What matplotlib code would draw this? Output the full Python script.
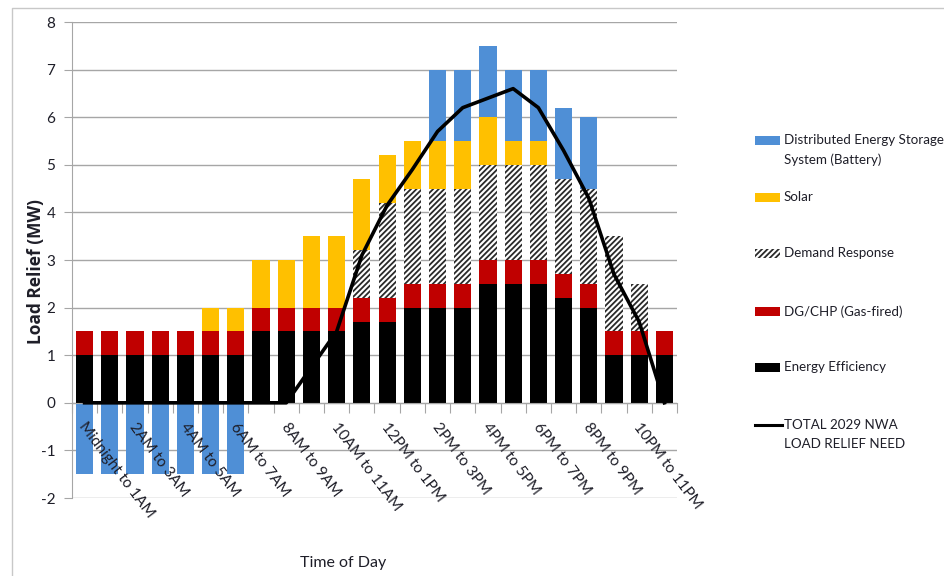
import matplotlib.pyplot as plt
from matplotlib.patches import Rectangle
from matplotlib.lines import Line2D
import numpy as np

plt.rcParams['font.family'] = ['Lato', 'DejaVu Sans']
plt.rcParams['hatch.linewidth'] = 1.3
plt.rcParams['axes.unicode_minus'] = False

# hourly slots
hours = list(range(24))
tick_labels = ['Midnight to 1AM', '2AM to 3AM', '4AM to 5AM', '6AM to 7AM',
               '8AM to 9AM', '10AM to 11AM', '12PM to 1PM', '2PM to 3PM',
               '4PM to 5PM', '6PM to 7PM', '8PM to 9PM', '10PM to 11PM']

# load relief by resource (MW)
efficiency = [1, 1, 1, 1, 1, 1, 1, 1.5, 1.5, 1.5, 1.5, 1.7,
              1.7, 2, 2, 2, 2.5, 2.5, 2.5, 2.2, 2, 1, 1, 1]
dg_chp = [0.5] * 24
demand_resp = [0, 0, 0, 0, 0, 0, 0, 0, 0, 0, 0, 1,
               2, 2, 2, 2, 2, 2, 2, 2, 2, 2, 1, 0]
solar = [0, 0, 0, 0, 0, 0.5, 0.5, 1, 1, 1.5, 1.5, 1.5,
         1, 1, 1, 1, 1, 0.5, 0.5, 0, 0, 0, 0, 0]
battery = [-1.5, -1.5, -1.5, -1.5, -1.5, -1.5, -1.5, 0, 0, 0, 0, 0,
           0, 0, 1.5, 1.5, 1.5, 1.5, 1.5, 1.5, 1.5, 0, 0, 0]
total_need = [0, 0, 0, 0, 0, 0, 0, 0, 0, 0.75, 1.5, 3.1,
              4.15, 4.9, 5.7, 6.2, 6.4, 6.6, 6.2, 5.3, 4.3, 2.7, 1.7, 0]

BLUE = '#4f8fd6'
YELLOW = '#ffc000'
RED = '#c00000'
GRID = '#a6a6a6'
TXT = '#1e1e28'
HATCH = '#2a2a2a'

W, H = 945, 576
fig = plt.figure(figsize=(W / 100, H / 100), dpi=100)


def fx(px):
    return px / W


def fy(py):
    return 1 - py / H


ax = fig.add_axes([fx(72), fy(498), fx(677 - 72), (498 - 22) / H])

x = np.array(hours)
bw = 0.68
ee = np.array(efficiency)
dg = np.array(dg_chp)
dr = np.array(demand_resp)
so = np.array(solar)
bt = np.array(battery)

ax.bar(x, ee, bw, color='black', zorder=2)
ax.bar(x, dg, bw, bottom=ee, color=RED, zorder=2)
ax.bar(x, dr, bw, bottom=ee + dg, color='white', edgecolor=HATCH,
       hatch='//////', linewidth=0, zorder=2)
ax.bar(x, so, bw, bottom=ee + dg + dr, color=YELLOW, zorder=2)
pos_bt = np.where(bt > 0, bt, 0)
neg_bt = np.where(bt < 0, bt, 0)
ax.bar(x, pos_bt, bw, bottom=ee + dg + dr + so, color=BLUE, zorder=2)
ax.bar(x, neg_bt, bw, color=BLUE, zorder=2)
ax.plot(x, total_need, color='black', lw=2.6, zorder=3,
        solid_joinstyle='round')

ax.set_xlim(-0.5, 23.5)
ax.set_ylim(-2, 8)
ax.set_yticks(range(-2, 9))
ax.yaxis.grid(True, color=GRID, lw=1)
ax.set_axisbelow(True)
for s in ['top', 'right']:
    ax.spines[s].set_visible(False)
ax.spines['left'].set_color(GRID)
ax.spines['bottom'].set_color(GRID)
ax.spines['bottom'].set_position(('data', 0))
ax.set_xticks(np.arange(-0.5, 24, 1))
ax.set_xticklabels([])
ax.tick_params(axis='x', direction='out', length=7, color=GRID)
ax.tick_params(axis='y', direction='out', length=6, color=GRID,
               labelsize=11, labelcolor=TXT, pad=6)

for i, lab in enumerate(tick_labels):
    ax.text(2 * i - 0.1, -0.45, lab, rotation=-53, rotation_mode='anchor',
            ha='left', va='center', fontsize=11, color=TXT)

fig.text(fx(343), fy(563), 'Time of Day', ha='center', va='center',
         fontsize=11.5, color=TXT)
fig.text(fx(36), fy(272), 'Load Relief (MW)', rotation=90, ha='center',
         va='center', fontsize=12.5, fontweight='bold', color=TXT,
         family=['Open Sans', 'DejaVu Sans'])

# legend drawn by hand to keep Excel-like spacing
leg = [('patch', BLUE, None, 140, 'Distributed Energy Storage\nSystem (Battery)'),
       ('patch', YELLOW, None, 197, 'Solar'),
       ('patch', 'white', '//////', 253, 'Demand Response'),
       ('patch', RED, None, 311, 'DG/CHP (Gas-fired)'),
       ('patch', 'black', None, 367, 'Energy Efficiency'),
       ('line', 'black', None, 425, 'TOTAL 2029 NWA\nLOAD RELIEF NEED')]
for kind, col, hatch, yy, lab in leg:
    if kind == 'patch':
        fig.add_artist(Rectangle((fx(755), fy(yy + 4.5)), fx(25), 9 / H,
                                 transform=fig.transFigure, facecolor=col,
                                 edgecolor=HATCH, hatch=hatch,
                                 linewidth=0))
    else:
        fig.add_artist(Line2D([fx(755), fx(782)], [fy(yy), fy(yy)],
                              transform=fig.transFigure, color=col, lw=2.2))
    fig.text(fx(784), fy(yy - 6), lab, ha='left', va='top', fontsize=9.6,
             color=TXT, linespacing=1.7)

# outer chart frame
fig.add_artist(Line2D([fx(12), fx(12), fx(945)], [fy(575), fy(8), fy(8)],
                      transform=fig.transFigure, color='#c8c8c8', lw=1))

fig.savefig('out.png', dpi=100)
